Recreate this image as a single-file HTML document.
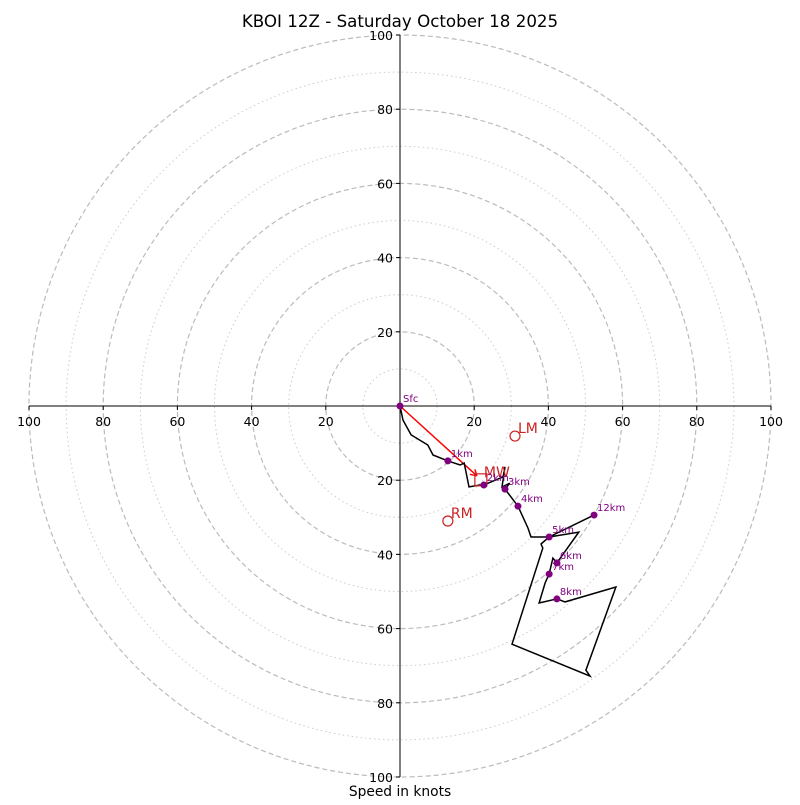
<!DOCTYPE html>
<html><head><meta charset="utf-8"><style>
body{margin:0;background:#fff}
svg text{font-family:"DejaVu Sans","Liberation Sans",sans-serif}
</style></head><body>
<svg id="c" width="800" height="800" viewBox="0 0 800 800">
<rect width="800" height="800" fill="#fff"/>
<text x="400" y="27" font-size="16.7" text-anchor="middle">KBOI 12Z - Saturday October 18 2025</text>
<text x="400" y="796" font-size="13.8" text-anchor="middle">Speed in knots</text>
<g id="rings"></g><g id="axes"></g><g id="series"></g>
</svg>
<script>
const ringSpeeds=[10,20,30,40,50,60,70,80,90,100];
const tickLabels=[20,40,60,80,100];
const pathU=[0,0.8,3.0,7.5,8.9,12.9,16.2,17.3,18.6,21.6,22.6,27.8,28.3,27.5,29.6,28.3,31.8,34.5,35.3,40.2,48.2,42.3,41.2,40.2,39.1,37.5,42.3,44.5,58.2,50.1,51.2,30.2,38.5,38.0,40.2,52.3];
const pathV=[0,-3.8,-7.8,-10.5,-13.2,-14.8,-15.9,-15.4,-21.8,-21.3,-21.3,-19.1,-16.4,-21.8,-20.8,-22.4,-27.0,-32.9,-35.3,-35.3,-34.0,-42.3,-41.0,-45.3,-47.7,-53.1,-52.0,-52.8,-48.8,-71.2,-72.8,-64.2,-38.3,-37.2,-35.3,-29.4];
const levelNames=["Sfc","1km","2km","3km","4km","5km","6km","7km","8km","12km"];
const levelU=[0,12.9,22.6,28.3,31.8,40.2,42.3,40.2,42.3,52.3];
const levelV=[0,-14.8,-21.3,-22.4,-27.0,-35.3,-42.3,-45.3,-52.0,-29.4];
const motionNames=["LM","RM","MW"];
const motionU=[31.0,12.9,21.8];
const motionV=[-8.1,-31.0,-19.9];
const CX=400,CY=406,S=3.71;
const px=u=>CX+u*S, py=v=>CY-v*S;
const NS="http://www.w3.org/2000/svg";
function mk(t,a,p,txt){const e=document.createElementNS(NS,t);for(const k in a)e.setAttribute(k,a[k]);if(txt!==undefined)e.textContent=txt;p.appendChild(e);return e;}
const rings=document.getElementById('rings'),axes=document.getElementById('axes'),ser=document.getElementById('series');
ringSpeeds.forEach(s=>{
 const e=mk('circle',{cx:CX,cy:CY,r:s*S,fill:'none',stroke:s%20==0?'#bbb':'#ccc','stroke-width':s%20==0?1.2:1,'stroke-dasharray':s%20==0?'5,3':'1.5,3'},rings);
 
 
});
mk('line',{x1:px(-100),y1:CY,x2:px(100),y2:CY,stroke:'#000'},axes);
mk('line',{x1:CX,y1:py(100),x2:CX,y2:py(-100),stroke:'#000'},axes);
tickLabels.forEach(t=>{
 [-t,t].forEach(u=>{
  mk('line',{x1:px(u),y1:CY,x2:px(u),y2:CY+4,stroke:'#000'},axes);
  const e=mk('text',{x:px(u),y:CY+20,'font-size':12.5,'text-anchor':'middle'},axes,String(t));
  
  
  mk('line',{x1:CX-4,y1:py(u),x2:CX,y2:py(u),stroke:'#000'},axes);
  const f=mk('text',{x:CX-7,y:py(u)+5,'font-size':12.5,'text-anchor':'end'},axes,String(t));
  
  
 });
});
// mean wind arrow
const ax2=px(motionU[2])-4, ay2=py(motionV[2])-4;
const aw=mk('line',{x1:px(0),y1:py(0),x2:ax2,y2:ay2,stroke:'red','stroke-width':1.5},ser);


const ah=mk('path',{d:`M${ax2},${ay2} l-7,-1.5 M${ax2},${ay2} l-2,-6.5`,stroke:'red','stroke-width':1.5,fill:'none'},ser);


let d='';
pathU.forEach((u,i)=>{d+=(i?'L':'M')+px(u).toFixed(1)+','+py(pathV[i]).toFixed(1);});
const pl=mk('path',{d:d,fill:'none',stroke:'#000','stroke-width':1.5},ser);


motionNames.forEach((n,i)=>{
 const x=px(motionU[i]),y=py(motionV[i]);
 let m;
 if(n==='MW') m=mk('rect',{x:x-6,y:y-6,width:12,height:12,fill:'none',stroke:'#c22','stroke-width':1.2},ser);
 else m=mk('circle',{cx:x,cy:y,r:5,fill:'none',stroke:'#c22','stroke-width':1.2},ser);
 
 
 const t=mk('text',{x:x+3,y:y-3,'font-size':14,fill:'#c22'},ser,n);
 
 
});
levelNames.forEach((n,i)=>{
 const x=px(levelU[i]),y=py(levelV[i]);
 const c=mk('circle',{cx:x,cy:y,r:3.5,fill:'purple'},ser);
 
 
 const t=mk('text',{x:x+3,y:y-4,'font-size':10,fill:'purple'},ser,n);
 
 
});
</script>
</body></html>
